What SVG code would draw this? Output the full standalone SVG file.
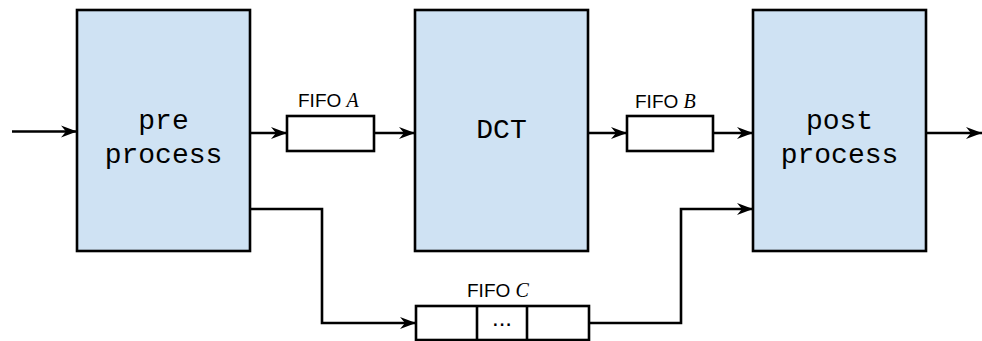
<svg xmlns="http://www.w3.org/2000/svg" width="982" height="341" viewBox="0 0 982 341">
<style>
.blk{fill:#cfe2f3;stroke:#000;stroke-width:2.6}
.fifo{fill:#fff;stroke:#000;stroke-width:2.6}
.mono{font-family:"Liberation Mono","Courier New",monospace;font-size:28px;fill:#000;text-anchor:middle}
.lbl{font-family:"Liberation Sans",Arial,sans-serif;font-size:19px;fill:#000}
.it{font-family:"Liberation Serif","Times New Roman",serif;font-style:italic;font-size:20px}
.wire{fill:none;stroke:#000;stroke-width:2.6}
</style>
<defs>
<marker id="arr" markerUnits="userSpaceOnUse" markerWidth="17" markerHeight="13" refX="16" refY="6.5" orient="auto">
<path d="M0,0.5 L16,6.5 L0,12.5 L5,6.5 z" fill="#000"/>
</marker>
</defs>
<g id="pre">
<rect class="blk" x="77" y="10" width="173" height="241"/>
<text class="mono" x="163.5" y="129">pre</text>
<text class="mono" x="163.5" y="163">process</text>
</g>
<g id="dct">
<rect class="blk" x="415" y="10" width="173" height="241"/>
<text class="mono" x="501.5" y="138">DCT</text>
</g>
<g id="post">
<rect class="blk" x="753" y="10" width="173" height="241"/>
<text class="mono" x="839.5" y="129">post</text>
<text class="mono" x="839.5" y="163">process</text>
</g>
<g id="fifoA">
<rect class="fifo" x="287" y="116" width="87" height="35"/>
<text class="lbl" x="298" y="107">FIFO <tspan class="it">A</tspan></text>
</g>
<g id="fifoB">
<rect class="fifo" x="627" y="116" width="86" height="35"/>
<text class="lbl" x="635" y="108">FIFO <tspan class="it">B</tspan></text>
</g>
<g id="fifoC">
<rect class="fifo" x="416" y="306" width="173" height="34"/>
<line class="wire" x1="477" y1="306" x2="477" y2="340"/>
<line class="wire" x1="527" y1="306" x2="527" y2="340"/>
<text class="lbl" x="502" y="326" text-anchor="middle" style="font-size:24px">...</text>
<text class="lbl" x="467" y="297">FIFO <tspan class="it">C</tspan></text>
</g>
<g id="connectors">
<line class="wire" x1="12" y1="131.5" x2="77" y2="131.5" marker-end="url(#arr)"/>
<line class="wire" x1="250" y1="133" x2="287" y2="133" marker-end="url(#arr)"/>
<line class="wire" x1="374" y1="133" x2="415" y2="133" marker-end="url(#arr)"/>
<line class="wire" x1="588" y1="133" x2="627" y2="133" marker-end="url(#arr)"/>
<line class="wire" x1="713" y1="133" x2="753" y2="133" marker-end="url(#arr)"/>
<line class="wire" x1="926" y1="133" x2="982" y2="133" marker-end="url(#arr)"/>
<polyline class="wire" points="250,209 322,209 322,323 416,323" marker-end="url(#arr)"/>
<polyline class="wire" points="589,323 681,323 681,209 753,209" marker-end="url(#arr)"/>
</g>
</svg>
